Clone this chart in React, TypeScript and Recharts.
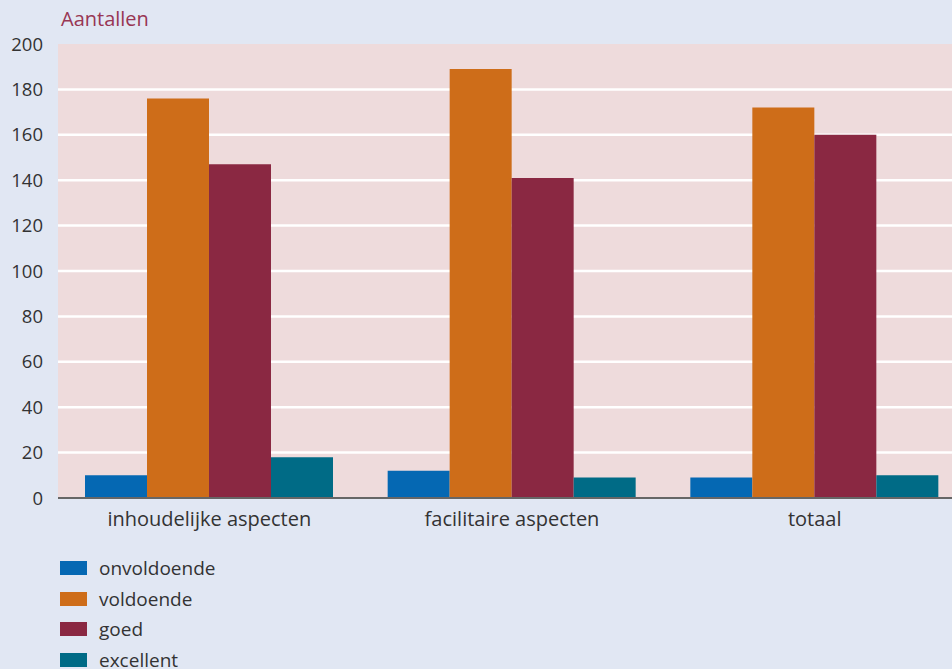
import React from 'react';
import { BarChart, Bar, XAxis, YAxis, CartesianGrid } from 'recharts';

const categories = ['inhoudelijke aspecten', 'facilitaire aspecten', 'totaal'];
const onvoldoende = [10, 12, 9];
const voldoende = [176, 189, 172];
const goed = [147, 141, 160];
const excellent = [18, 9, 10];
const yTicks = [0, 20, 40, 60, 80, 100, 120, 140, 160, 180, 200];

const SERIES = [
  { key: 'onvoldoende', color: '#0568b3' },
  { key: 'voldoende', color: '#ce6d19' },
  { key: 'goed', color: '#8a2842' },
  { key: 'excellent', color: '#006b86' },
];

const data = categories.map((name, i) => ({
  name,
  onvoldoende: onvoldoende[i],
  voldoende: voldoende[i],
  goed: goed[i],
  excellent: excellent[i],
}));

const FONT = '"Open Sans", sans-serif';

const App: React.FC = () => {
  return (
    <div style={{ position: 'absolute', left: 0, top: 0, width: 952, height: 669, background: '#e1e7f3', overflow: 'hidden' }}>
      <div style={{ position: 'absolute', left: 61, top: 5, fontFamily: FONT, fontSize: 20, color: '#983654' }}>
        Aantallen
      </div>
      {/* plot runs a bit past the right edge, like the source image */}
      <BarChart
        width={966}
        height={669}
        data={data}
        margin={{ top: 44, right: 0, bottom: 131, left: 0 }}
        barCategoryGap={27}
        barGap={0}
      >
        <CartesianGrid
          vertical={false}
          fill="#eedbdc"
          stroke="#ffffff"
          strokeWidth={2.5}
          horizontalValues={[20, 40, 60, 80, 100, 120, 140, 160, 180]}
        />
        <XAxis
          dataKey="name"
          height={40}
          tickLine={false}
          axisLine={{ stroke: '#666', strokeWidth: 2 }}
          tick={{ fill: '#333', fontSize: 20, fontFamily: FONT }}
          tickMargin={8}
        />
        <YAxis
          width={58}
          domain={[0, 200]}
          ticks={yTicks}
          axisLine={false}
          tickLine={false}
          tickSize={0}
          tickMargin={15}
          tick={{ fill: '#333', fontSize: 18.5, fontFamily: FONT }}
        />
        {SERIES.map((s) => (
          <Bar key={s.key} dataKey={s.key} fill={s.color} isAnimationActive={false} />
        ))}
      </BarChart>
      <div style={{ position: 'absolute', left: 60, top: 553, fontFamily: FONT }}>
        {SERIES.map((s) => (
          <div key={s.key} style={{ display: 'flex', alignItems: 'center', height: 30.5 }}>
            <span style={{ display: 'inline-block', width: 27, height: 14, background: s.color, marginRight: 12 }} />
            <span style={{ fontSize: 19, color: '#333' }}>{s.key}</span>
          </div>
        ))}
      </div>
    </div>
  );
};

export default App;
